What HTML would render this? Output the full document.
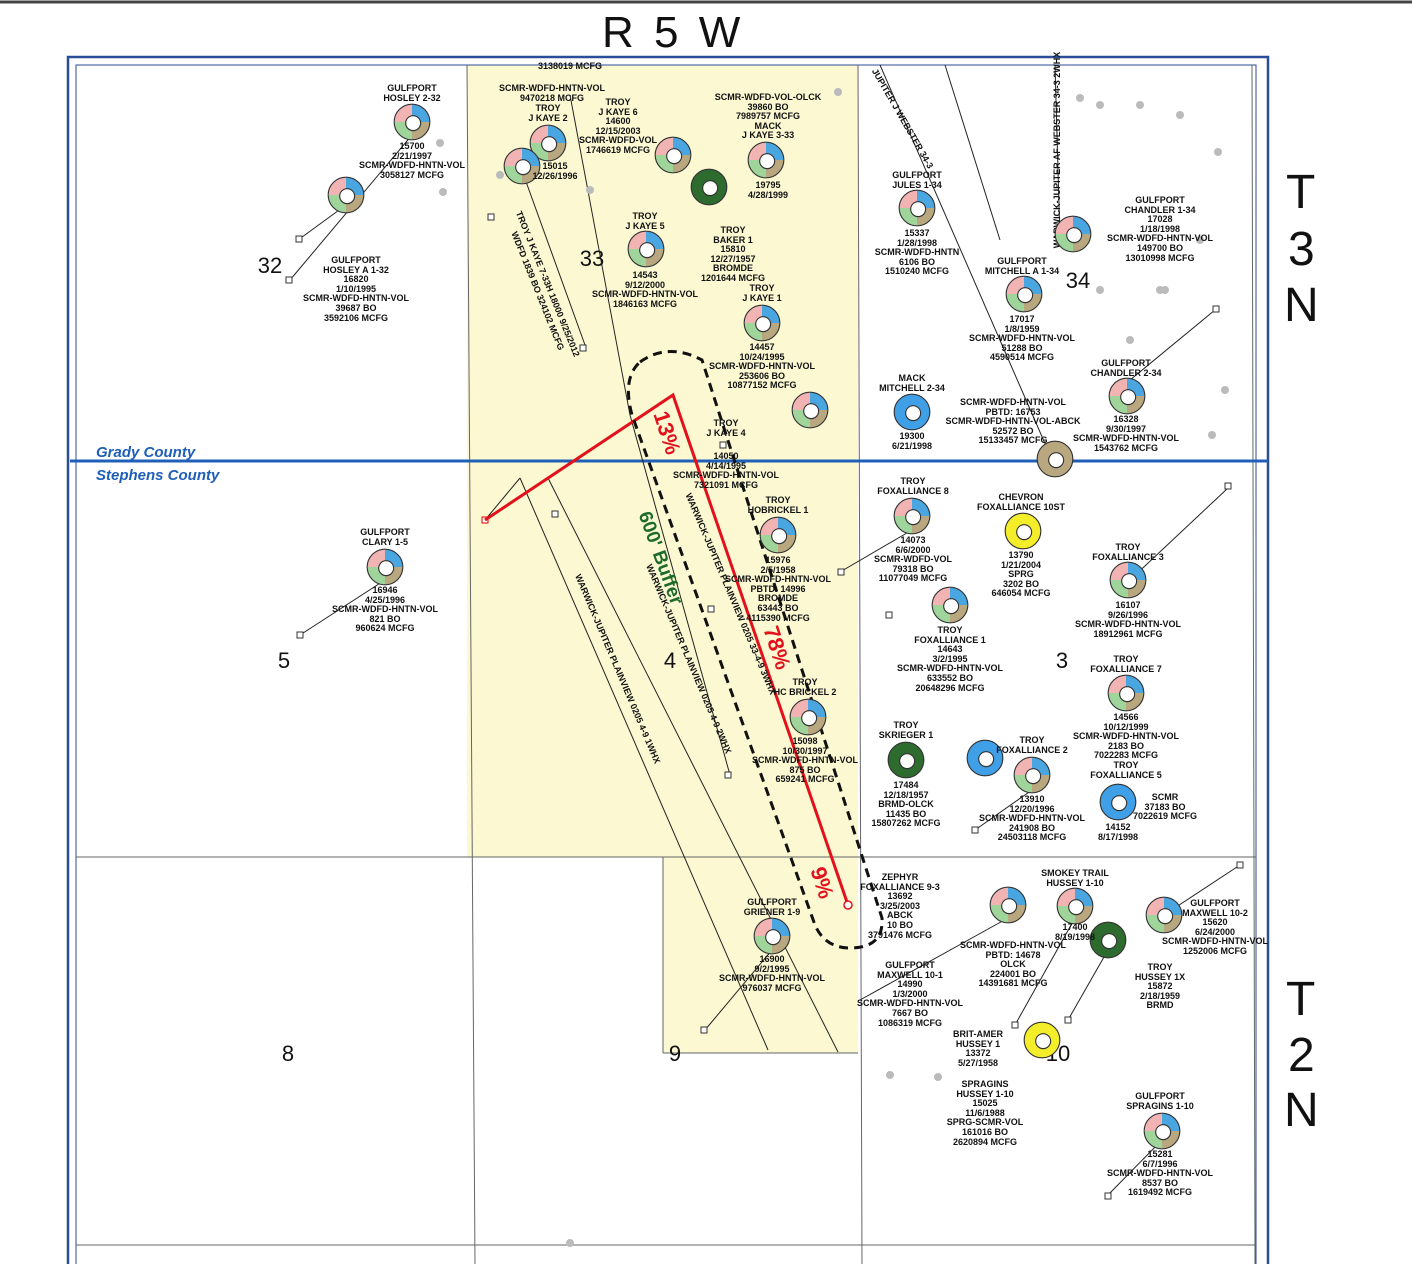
<!DOCTYPE html>
<html><head><meta charset="utf-8"><style>
html,body{margin:0;padding:0;background:#fff;}
#w{position:relative;width:1412px;height:1264px;overflow:hidden;background:#fff;font-family:"Liberation Sans",sans-serif;}
.l{position:absolute;width:170px;text-align:center;font-size:9px;font-weight:bold;line-height:9.6px;color:#111;white-space:nowrap;}
.p{position:absolute;width:30px;height:30px;border-radius:50%;border:1px solid #333;transform:scale(1.15);background:conic-gradient(#4aa6e0 0 25%,#b9a87f 25% 50%,#9fd49a 50% 75%,#f2b3b3 75% 100%);}
.p::after{content:"";position:absolute;left:9px;top:9px;width:12px;height:12px;border-radius:50%;background:#fff;border:1px solid #333;}
.g{background:#2e6b2e;}
.y{background:#f4ee2a;}
.b{background:#3fa0e8;}
.big{position:absolute;font-size:48px;color:#111;}
</style></head><body><div id="w">
<svg width="1412" height="1264" style="position:absolute;left:0;top:0">
<line x1="0" y1="2" x2="1412" y2="2" stroke="#444" stroke-width="3"/>
<rect x="467" y="65" width="391" height="792" fill="#fbf8d2"/>
<rect x="663" y="857" width="195" height="196" fill="#fbf8d2"/>
<rect x="68" y="57" width="1200" height="1210" fill="none" stroke="#2b4c96" stroke-width="2.5"/>
<rect x="76" y="65" width="1180" height="1200" fill="none" stroke="#2b4c96" stroke-width="1"/>
<g stroke="#666" stroke-width="1" fill="none">
<line x1="467" y1="65" x2="475" y2="1264"/>
<line x1="858" y1="65" x2="862" y2="1264"/>
<line x1="1252" y1="65" x2="1255" y2="1264"/>
<line x1="76" y1="857" x2="1256" y2="857"/>
<line x1="76" y1="1245" x2="1256" y2="1245"/>
<line x1="663" y1="857" x2="663" y2="1053"/><line x1="663" y1="1053" x2="858" y2="1053"/>
</g>
<line x1="70" y1="461" x2="1268" y2="461" stroke="#1f5fb8" stroke-width="3"/>
<g stroke="#222" stroke-width="1" fill="none">
<line x1="485" y1="520" x2="520" y2="478"/><line x1="520" y1="478" x2="768" y2="1050"/>
<line x1="485" y1="520" x2="548" y2="478"/><line x1="548" y1="478" x2="838" y2="1052"/>
<line x1="570" y1="95" x2="630" y2="415"/><line x1="630" y1="415" x2="730" y2="775"/>
<line x1="520" y1="165" x2="585" y2="345"/>
<line x1="412" y1="135" x2="290" y2="280"/><line x1="346" y1="205" x2="298" y2="240"/>
<line x1="385" y1="580" x2="300" y2="635"/>
<line x1="880" y1="65" x2="1050" y2="455"/><line x1="945" y1="65" x2="1000" y2="240"/>
<line x1="1055" y1="65" x2="1060" y2="240"/>
<line x1="912" y1="530" x2="840" y2="572"/>
<line x1="1228" y1="488" x2="1130" y2="580"/>
<line x1="1008" y1="918" x2="860" y2="1000"/><line x1="1075" y1="918" x2="1015" y2="1025"/>
<line x1="1164" y1="915" x2="1240" y2="865"/><line x1="1108" y1="950" x2="1068" y2="1020"/>
<line x1="1162" y1="1140" x2="1108" y2="1195"/>
<line x1="772" y1="950" x2="705" y2="1030"/>
<line x1="1032" y1="790" x2="975" y2="830"/>
<line x1="1215" y1="310" x2="1130" y2="380"/>
</g>
<g stroke="#333" fill="#fff"><rect x="296" y="236" width="6" height="6"/><rect x="286" y="277" width="6" height="6"/><rect x="297" y="632" width="6" height="6"/><rect x="482" y="517" width="6" height="6" stroke="#d00"/><rect x="552" y="511" width="6" height="6"/><rect x="838" y="569" width="6" height="6"/><rect x="886" y="612" width="6" height="6"/><rect x="701" y="1027" width="6" height="6"/><rect x="1012" y="1022" width="6" height="6"/><rect x="1065" y="1017" width="6" height="6"/><rect x="1105" y="1193" width="6" height="6"/><rect x="972" y="827" width="6" height="6"/><rect x="1213" y="306" width="6" height="6"/><rect x="1225" y="483" width="6" height="6"/><rect x="1237" y="862" width="6" height="6"/><rect x="725" y="772" width="6" height="6"/><rect x="708" y="606" width="6" height="6"/><rect x="720" y="442" width="6" height="6"/><rect x="580" y="345" width="6" height="6"/><rect x="488" y="214" width="6" height="6"/></g>
<g fill="#bbb"><circle cx="440" cy="143" r="4"/><circle cx="443" cy="192" r="4"/><circle cx="590" cy="190" r="4"/><circle cx="890" cy="1075" r="4"/><circle cx="938" cy="1077" r="4"/><circle cx="1130" cy="340" r="4"/><circle cx="1165" cy="290" r="4"/><circle cx="1218" cy="152" r="4"/><circle cx="1100" cy="105" r="4"/><circle cx="1140" cy="105" r="4"/><circle cx="1180" cy="115" r="4"/><circle cx="1080" cy="98" r="4"/><circle cx="1200" cy="240" r="4"/><circle cx="1225" cy="390" r="4"/><circle cx="1212" cy="435" r="4"/><circle cx="1160" cy="290" r="4"/><circle cx="1100" cy="290" r="4"/><circle cx="838" cy="92" r="4"/><circle cx="500" cy="175" r="4"/><circle cx="570" cy="1243" r="4"/></g>
<g fill="none" stroke="#e3111b" stroke-width="3"><polyline points="485,520 673,395 848,905"/></g>
<circle cx="848" cy="905" r="4" fill="#fff" stroke="#e3111b" stroke-width="1.5"/>
<path d="M640,362 Q668,342 702,360 L882,918 Q884,948 850,948 Q825,948 815,925 L632,415 Q622,378 640,362 Z" fill="none" stroke="#111" stroke-width="3" stroke-dasharray="9,6"/>
<g font-family="Liberation Sans,sans-serif" font-size="9" font-weight="bold" fill="#111">
<text transform="translate(615,670) rotate(67)" text-anchor="middle">WARWICK-JUPITER PLAINVIEW 0205 4-9 1WHX</text>
<text transform="translate(686,660) rotate(67)" text-anchor="middle">WARWICK-JUPITER PLAINVIEW 0205 4-9 2WHX</text>
<text transform="translate(728,595) rotate(67)" text-anchor="middle">WARWICK-JUPITER PLAINVIEW 0205 33-4-9 3WHX</text>
<text transform="translate(545,285) rotate(68)" text-anchor="middle">TROY J KAYE 7-33H 18000 9/25/2012</text>
<text transform="translate(535,292) rotate(68)" text-anchor="middle">WDFD 1839 BO 324102 MCFG</text>
<text transform="translate(1060,150) rotate(-90)" text-anchor="middle">WARWICK-JUPITER AF WEBSTER 34-3 2WHX</text>
<text transform="translate(900,120) rotate(60)" text-anchor="middle">JUPITER J WEBSTER 34-3</text>
<text x="570" y="69" text-anchor="middle">3138019 MCFG</text>
</g>
<g font-family="Liberation Sans,sans-serif" font-weight="bold">
<text transform="translate(655,560) rotate(70)" text-anchor="middle" font-size="19" fill="#1d6b2a">600' Buffer</text>
<text transform="translate(660,435) rotate(72)" text-anchor="middle" font-size="22" fill="#e3111b">13%</text>
<text transform="translate(770,650) rotate(72)" text-anchor="middle" font-size="22" fill="#e3111b">78%</text>
<text transform="translate(815,885) rotate(72)" text-anchor="middle" font-size="22" fill="#e3111b">9%</text>
<text x="96" y="457" font-size="15" font-style="italic" fill="#1f5fb8">Grady County</text>
<text x="96" y="480" font-size="15" font-style="italic" fill="#1f5fb8">Stephens County</text>
</g>
<g font-family="Liberation Sans,sans-serif" font-size="22" fill="#111" text-anchor="middle">
<text x="270" y="273">32</text><text x="592" y="266">33</text><text x="1078" y="288">34</text>
<text x="284" y="668">5</text><text x="670" y="668">4</text><text x="1062" y="668">3</text>
<text x="288" y="1061">8</text><text x="675" y="1061">9</text><text x="1058" y="1061">10</text>
</g>
</svg>
<div class="big" style="left:602px;top:8px;letter-spacing:4px;font-size:44px">R 5 W</div>
<div class="big" style="left:1286px;top:165px">T</div>
<div class="big" style="left:1288px;top:222px">3</div>
<div class="big" style="left:1284px;top:278px">N</div>
<div class="big" style="left:1286px;top:972px">T</div>
<div class="big" style="left:1288px;top:1028px">2</div>
<div class="big" style="left:1284px;top:1083px">N</div>

<div class="p" style="left:396px;top:106px"></div>
<div class="p" style="left:330px;top:179px"></div>
<div class="p" style="left:532px;top:127px"></div>
<div class="p" style="left:506px;top:150px"></div>
<div class="p" style="left:657px;top:139px"></div>
<div class="p g" style="left:693px;top:171px"></div>
<div class="p" style="left:750px;top:144px"></div>
<div class="p" style="left:630px;top:233px"></div>
<div class="p" style="left:746px;top:307px"></div>
<div class="p" style="left:794px;top:394px"></div>
<div class="p" style="left:901px;top:192px"></div>
<div class="p" style="left:1057px;top:218px"></div>
<div class="p" style="left:1008px;top:278px"></div>
<div class="p" style="left:1111px;top:380px"></div>
<div class="p b" style="left:896px;top:396px"></div>
<div class="p" style="left:1039px;top:443px;background:#b9a87f"></div>
<div class="p" style="left:896px;top:500px"></div>
<div class="p y" style="left:1007px;top:515px"></div>
<div class="p" style="left:1112px;top:564px"></div>
<div class="p" style="left:762px;top:519px"></div>
<div class="p" style="left:934px;top:589px"></div>
<div class="p" style="left:1110px;top:677px"></div>
<div class="p" style="left:792px;top:701px"></div>
<div class="p g" style="left:890px;top:744px"></div>
<div class="p b" style="left:969px;top:742px"></div>
<div class="p" style="left:1016px;top:759px"></div>
<div class="p b" style="left:1102px;top:786px"></div>
<div class="p" style="left:992px;top:889px"></div>
<div class="p" style="left:1059px;top:890px"></div>
<div class="p g" style="left:1092px;top:924px"></div>
<div class="p" style="left:1148px;top:899px"></div>
<div class="p" style="left:756px;top:920px"></div>
<div class="p y" style="left:1026px;top:1024px"></div>
<div class="p" style="left:1146px;top:1115px"></div>
<div class="p" style="left:369px;top:551px"></div>

<div class="l" style="left:327px;top:84px">GULFPORT<br>HOSLEY 2-32</div>
<div class="l" style="left:327px;top:142px">15700<br>2/21/1997<br>SCMR-WDFD-HNTN-VOL<br>3058127 MCFG</div>
<div class="l" style="left:271px;top:256px">GULFPORT<br>HOSLEY A 1-32<br>16820<br>1/10/1995<br>SCMR-WDFD-HNTN-VOL<br>39687 BO<br>3592106 MCFG</div>
<div class="l" style="left:467px;top:84px">SCMR-WDFD-HNTN-VOL<br>9470218 MCFG</div>
<div class="l" style="left:533px;top:98px">TROY<br>J KAYE 6<br>14600<br>12/15/2003<br>SCMR-WDFD-VOL<br>1746619 MCFG</div>
<div class="l" style="left:463px;top:104px">TROY<br>J KAYE 2</div>
<div class="l" style="left:470px;top:162px">15015<br>12/26/1996</div>
<div class="l" style="left:683px;top:93px">SCMR-WDFD-VOL-OLCK<br>39860 BO<br>7989757 MCFG<br>MACK<br>J KAYE 3-33</div>
<div class="l" style="left:683px;top:181px">19795<br>4/28/1999</div>
<div class="l" style="left:560px;top:212px">TROY<br>J KAYE 5</div>
<div class="l" style="left:560px;top:271px">14543<br>9/12/2000<br>SCMR-WDFD-HNTN-VOL<br>1846163 MCFG</div>
<div class="l" style="left:648px;top:226px">TROY<br>BAKER 1<br>15810<br>12/27/1957<br>BROMDE<br>1201644 MCFG</div>
<div class="l" style="left:677px;top:284px">TROY<br>J KAYE 1</div>
<div class="l" style="left:677px;top:343px">14457<br>10/24/1995<br>SCMR-WDFD-HNTN-VOL<br>253606 BO<br>10877152 MCFG</div>
<div class="l" style="left:832px;top:171px">GULFPORT<br>JULES 1-34</div>
<div class="l" style="left:832px;top:229px">15337<br>1/28/1998<br>SCMR-WDFD-HNTN<br>6106 BO<br>1510240 MCFG</div>
<div class="l" style="left:1075px;top:196px">GULFPORT<br>CHANDLER 1-34<br>17028<br>1/18/1998<br>SCMR-WDFD-HNTN-VOL<br>149700 BO<br>13010998 MCFG</div>
<div class="l" style="left:937px;top:257px">GULFPORT<br>MITCHELL A 1-34</div>
<div class="l" style="left:937px;top:315px">17017<br>1/8/1959<br>SCMR-WDFD-HNTN-VOL<br>51288 BO<br>4590514 MCFG</div>
<div class="l" style="left:1041px;top:359px">GULFPORT<br>CHANDLER 2-34</div>
<div class="l" style="left:1041px;top:415px">16328<br>9/30/1997<br>SCMR-WDFD-HNTN-VOL<br>1543762 MCFG</div>
<div class="l" style="left:827px;top:374px">MACK<br>MITCHELL 2-34</div>
<div class="l" style="left:827px;top:432px">19300<br>6/21/1998</div>
<div class="l" style="left:928px;top:398px">SCMR-WDFD-HNTN-VOL<br>PBTD: 16753<br>SCMR-WDFD-HNTN-VOL-ABCK<br>52572 BO<br>15133457 MCFG</div>
<div class="l" style="left:641px;top:419px">TROY<br>J KAYE 4</div>
<div class="l" style="left:641px;top:452px">14050<br>4/14/1995<br>SCMR-WDFD-HNTN-VOL<br>7321091 MCFG</div>
<div class="l" style="left:828px;top:477px">TROY<br>FOXALLIANCE 8</div>
<div class="l" style="left:828px;top:536px">14073<br>6/6/2000<br>SCMR-WDFD-VOL<br>79318 BO<br>11077049 MCFG</div>
<div class="l" style="left:936px;top:493px">CHEVRON<br>FOXALLIANCE 10ST</div>
<div class="l" style="left:936px;top:551px">13790<br>1/21/2004<br>SPRG<br>3202 BO<br>646054 MCFG</div>
<div class="l" style="left:1043px;top:543px">TROY<br>FOXALLIANCE 3</div>
<div class="l" style="left:1043px;top:601px">16107<br>9/26/1996<br>SCMR-WDFD-HNTN-VOL<br>18912961 MCFG</div>
<div class="l" style="left:693px;top:496px">TROY<br>HOBRICKEL 1</div>
<div class="l" style="left:693px;top:556px">15976<br>2/5/1958<br>SCMR-WDFD-HNTN-VOL<br>PBTD: 14996<br>BROMDE<br>63443 BO<br>4115390 MCFG</div>
<div class="l" style="left:865px;top:626px">TROY<br>FOXALLIANCE 1<br>14643<br>3/2/1995<br>SCMR-WDFD-HNTN-VOL<br>633552 BO<br>20648296 MCFG</div>
<div class="l" style="left:1041px;top:655px">TROY<br>FOXALLIANCE 7</div>
<div class="l" style="left:1041px;top:713px">14566<br>10/12/1999<br>SCMR-WDFD-HNTN-VOL<br>2183 BO<br>7022283 MCFG<br>TROY<br>FOXALLIANCE 5</div>
<div class="l" style="left:720px;top:678px">TROY<br>HC BRICKEL 2</div>
<div class="l" style="left:720px;top:737px">15098<br>10/30/1997<br>SCMR-WDFD-HNTN-VOL<br>875 BO<br>659241 MCFG</div>
<div class="l" style="left:821px;top:721px">TROY<br>SKRIEGER 1</div>
<div class="l" style="left:821px;top:781px">17484<br>12/18/1957<br>BRMD-OLCK<br>11435 BO<br>15807262 MCFG</div>
<div class="l" style="left:947px;top:736px">TROY<br>FOXALLIANCE 2</div>
<div class="l" style="left:947px;top:795px">13910<br>12/20/1996<br>SCMR-WDFD-HNTN-VOL<br>241908 BO<br>24503118 MCFG</div>
<div class="l" style="left:1080px;top:793px">SCMR<br>37183 BO<br>7022619 MCFG</div>
<div class="l" style="left:1033px;top:823px">14152<br>8/17/1998</div>
<div class="l" style="left:815px;top:873px">ZEPHYR<br>FOXALLIANCE 9-3<br>13692<br>3/25/2003<br>ABCK<br>10 BO<br>3791476 MCFG</div>
<div class="l" style="left:990px;top:869px">SMOKEY TRAIL<br>HUSSEY 1-10</div>
<div class="l" style="left:990px;top:923px">17400<br>8/19/1998</div>
<div class="l" style="left:928px;top:941px">SCMR-WDFD-HNTN-VOL<br>PBTD: 14678<br>OLCK<br>224001 BO<br>14391681 MCFG</div>
<div class="l" style="left:1130px;top:899px">GULFPORT<br>MAXWELL 10-2<br>15620<br>6/24/2000<br>SCMR-WDFD-HNTN-VOL<br>1252006 MCFG</div>
<div class="l" style="left:1075px;top:963px">TROY<br>HUSSEY 1X<br>15872<br>2/18/1959<br>BRMD</div>
<div class="l" style="left:687px;top:898px">GULFPORT<br>GRIENER 1-9</div>
<div class="l" style="left:687px;top:955px">16900<br>9/2/1995<br>SCMR-WDFD-HNTN-VOL<br>976037 MCFG</div>
<div class="l" style="left:825px;top:961px">GULFPORT<br>MAXWELL 10-1<br>14990<br>1/3/2000<br>SCMR-WDFD-HNTN-VOL<br>7667 BO<br>1086319 MCFG</div>
<div class="l" style="left:893px;top:1030px">BRIT-AMER<br>HUSSEY 1<br>13372<br>5/27/1958</div>
<div class="l" style="left:900px;top:1080px">SPRAGINS<br>HUSSEY 1-10<br>15025<br>11/6/1988<br>SPRG-SCMR-VOL<br>161016 BO<br>2620894 MCFG</div>
<div class="l" style="left:1075px;top:1092px">GULFPORT<br>SPRAGINS 1-10</div>
<div class="l" style="left:1075px;top:1150px">15281<br>6/7/1996<br>SCMR-WDFD-HNTN-VOL<br>8537 BO<br>1619492 MCFG</div>
<div class="l" style="left:300px;top:528px">GULFPORT<br>CLARY 1-5</div>
<div class="l" style="left:300px;top:586px">16946<br>4/25/1996<br>SCMR-WDFD-HNTN-VOL<br>821 BO<br>960624 MCFG</div>
</div></body></html>
